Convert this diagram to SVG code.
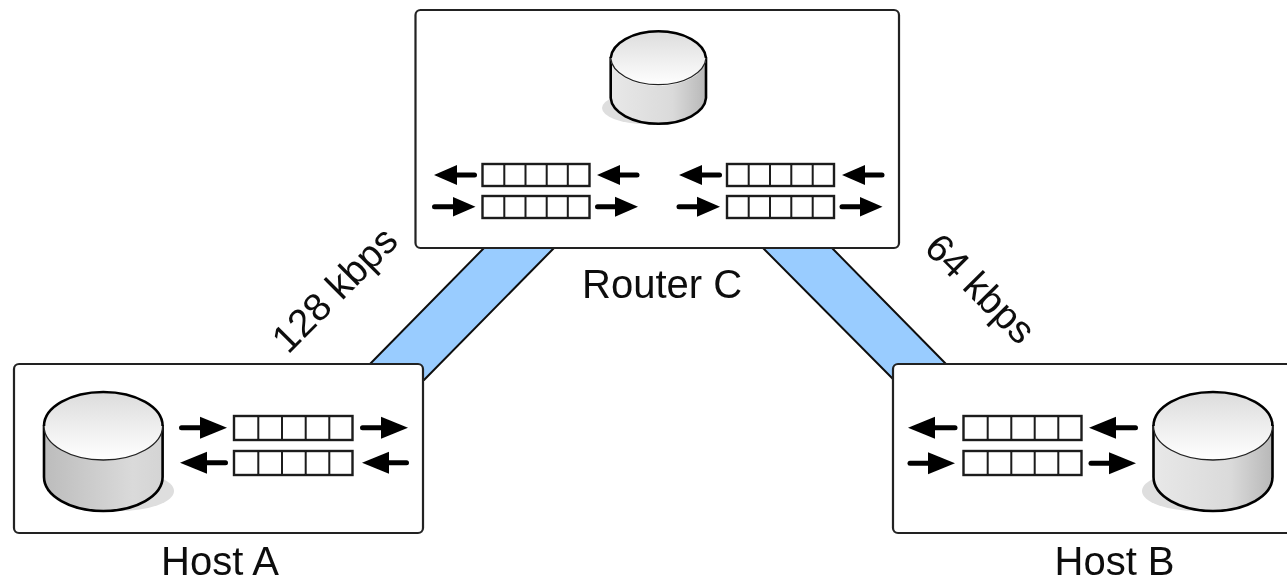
<svg xmlns="http://www.w3.org/2000/svg" width="1287" height="577" viewBox="0 0 1287 577">
<style>
.box{fill:#fff;stroke:#222;stroke-width:2.2}
.link{fill:#99ccff;stroke:#111;stroke-width:2;stroke-linejoin:round}
.q{fill:#fff;stroke:#1a1a1a;stroke-width:2.4}
.d{stroke:#1a1a1a;stroke-width:2}
.a{stroke:#000;stroke-width:5;stroke-linecap:round;fill:none}
.hr{marker-end:url(#head)}
.hh{marker-end:url(#headL)}
.shadow{fill:#dedede}
.cyl{stroke:#000;stroke-width:2.6;stroke-linejoin:round}
.rim{stroke:#222;stroke-width:1.3}
.top{fill:url(#topG)}
.t{font-family:"Liberation Sans",Arial,sans-serif;font-size:40px;fill:#111}
.r{font-size:39px}
</style>
<defs>
<filter id="soft" filterUnits="userSpaceOnUse" x="0" y="0" width="1287" height="577"><feGaussianBlur stdDeviation="0.45"/></filter>
<marker id="head" markerUnits="userSpaceOnUse" markerWidth="23" markerHeight="22" viewBox="0 0 23 22" refX="1" refY="11" orient="auto"><path d="M0 1 L23 11 L0 21Z" fill="#000"/></marker>
<marker id="headL" markerUnits="userSpaceOnUse" markerWidth="27" markerHeight="24" viewBox="0 0 27 24" refX="1" refY="12" orient="auto"><path d="M0 1 L27 12 L0 23Z" fill="#000"/></marker>
<linearGradient id="topG" x1="0" y1="0" x2="0" y2="1"><stop offset="0" stop-color="#dcdcdc"/><stop offset="1" stop-color="#ffffff"/></linearGradient>
<linearGradient id="sideL" x1="0" y1="0" x2="1" y2="0"><stop offset="0" stop-color="#bcbcbc"/><stop offset="0.75" stop-color="#dadada"/><stop offset="1" stop-color="#d4d4d4"/></linearGradient>
<linearGradient id="sideR" x1="0" y1="0" x2="1" y2="0"><stop offset="0" stop-color="#e8e8e8"/><stop offset="0.65" stop-color="#dadada"/><stop offset="1" stop-color="#b8b8b8"/></linearGradient>
</defs>
<g filter="url(#soft)">
<g id="connectors">
<path class="link" d="M484 248 L370 364 L424 380 L554 248Z"/>
<path class="link" d="M763 248 L893 379 L946 364 L832 248Z"/>
</g>

<g id="router-c">
<rect class="box" x="415.5" y="10" width="483.5" height="238" rx="5"/>
<ellipse class="shadow" cx="645" cy="108" rx="43" ry="16"/>
<path class="cyl" fill="url(#sideR)" d="M610.7 58 V98 A47.7 27 0 0 0 706 98 V58Z"/>
<ellipse class="top" cx="658.3" cy="58" rx="47.7" ry="28"/>
<path class="rim" fill="none" d="M610.7 58 A47.7 28 0 0 0 706 58"/>
<path fill="none" class="cyl" d="M610.7 58 A47.7 28 0 0 1 706 58"/>
<rect class="q" x="482.5" y="164" width="107" height="22"/>
<path class="d" d="M504.3 164V186M525.5 164V186M546.7 164V186M567.8 164V186"/>
<rect class="q" x="482.5" y="196" width="107" height="22"/>
<path class="d" d="M504.3 196V218M525.5 196V218M546.7 196V218M567.8 196V218"/>
<rect class="q" x="727" y="164" width="107" height="22"/>
<path class="d" d="M748.7 164V186M770 164V186M791.3 164V186M812.7 164V186"/>
<rect class="q" x="727" y="196" width="107" height="22"/>
<path class="d" d="M748.7 196V218M770 196V218M791.3 196V218M812.7 196V218"/>
<path class="a hr" d="M474.5 175H456"/>
<path class="a hr" d="M637 175H619"/>
<path class="a hr" d="M719.5 175H701"/>
<path class="a hr" d="M882 175H864"/>
<path class="a hr" d="M434.5 206.7H453.5"/>
<path class="a hr" d="M597.5 206.7H616"/>
<path class="a hr" d="M679 206.7H698"/>
<path class="a hr" d="M842 206.7H860.5"/>
<text class="t" x="582" y="298">Router C</text>
</g>

<g id="host-a">
<rect class="box" x="14" y="364" width="409" height="169" rx="5"/>
<ellipse class="shadow" cx="118" cy="491" rx="56" ry="20"/>
<path class="cyl" fill="url(#sideL)" d="M44 426 V477 A59.3 34 0 0 0 162.6 477 V426Z"/>
<ellipse class="top" cx="103.3" cy="426" rx="59.3" ry="34"/>
<path class="rim" fill="none" d="M44 426 A59.3 34 0 0 0 162.6 426"/>
<path fill="none" class="cyl" d="M44 426 A59.3 34 0 0 1 162.6 426"/>
<rect class="q" x="234" y="416" width="118.5" height="24"/>
<path class="d" d="M258.3 416V440M282 416V440M305.7 416V440M329.3 416V440"/>
<rect class="q" x="234" y="451" width="118.5" height="24"/>
<path class="d" d="M258.3 451V475M282 451V475M305.7 451V475M329.3 451V475"/>
<path class="a hh" d="M181.5 427.7H201"/>
<path class="a hh" d="M362.5 427.7H382"/>
<path class="a hh" d="M225.5 462.7H206"/>
<path class="a hh" d="M406.5 462.7H388"/>
<text class="t" x="161" y="575">Host A</text>
</g>

<g id="host-b">
<rect class="box" x="893" y="364" width="400" height="169" rx="5"/>
<ellipse class="shadow" cx="1198" cy="491" rx="56" ry="20"/>
<path class="cyl" fill="url(#sideR)" d="M1153.5 426 V477 A59.5 34 0 0 0 1272.5 477 V426Z"/>
<ellipse class="top" cx="1213" cy="426" rx="59.5" ry="34"/>
<path class="rim" fill="none" d="M1153.5 426 A59.5 34 0 0 0 1272.5 426"/>
<path fill="none" class="cyl" d="M1153.5 426 A59.5 34 0 0 1 1272.5 426"/>
<rect class="q" x="963.5" y="416" width="118" height="24"/>
<path class="d" d="M987.7 416V440M1011.3 416V440M1034.7 416V440M1058.3 416V440"/>
<rect class="q" x="963.5" y="451" width="118" height="24"/>
<path class="d" d="M987.7 451V475M1011.3 451V475M1034.7 451V475M1058.3 451V475"/>
<path class="a hh" d="M955 427.7H934"/>
<path class="a hh" d="M1135.5 427.7H1115"/>
<path class="a hh" d="M910 463.3H929"/>
<path class="a hh" d="M1091 463.3H1110"/>
<text class="t" x="1054.5" y="575">Host B</text>
</g>

<g id="labels">
<text class="t r" text-anchor="middle" transform="translate(344 299) rotate(-45)">128 kbps</text>
<text class="t r" text-anchor="middle" transform="translate(971 298) rotate(45)">64 kbps</text>
</g>
</g>
</svg>
